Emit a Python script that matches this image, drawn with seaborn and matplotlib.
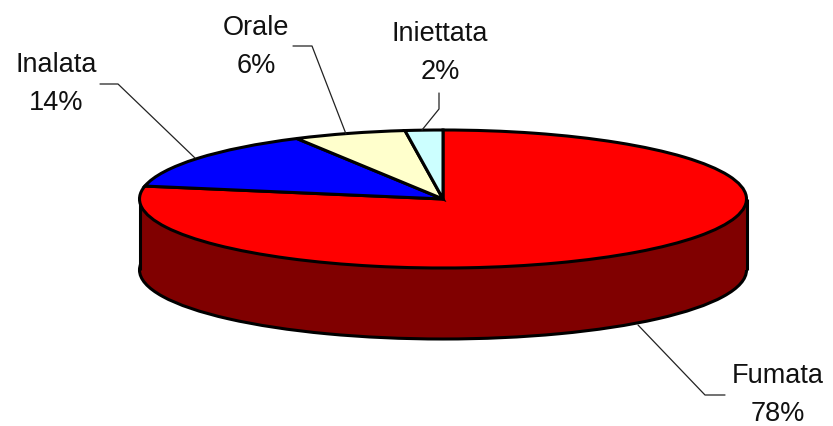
import matplotlib
matplotlib.use('Agg')
import matplotlib.pyplot as plt
import seaborn as sns

# Values and names, clockwise from the top
labels = ['Fumata', 'Inalata', 'Orale', 'Iniettata']
values = [78, 14, 6, 2]
colors = ['#ff0000', '#0000ff', '#ffffcc', '#ccffff']
side_color = '#800000'

sns.set_theme(style='white')
plt.rcParams['font.family'] = ['Liberation Sans', 'DejaVu Sans']

W, H = 833, 426
CX, CY, RX, RY, DEPTH = 443, 199, 303.5, 69, 71

fig = plt.figure(figsize=(W / 100, H / 100), dpi=100)
ax = fig.add_axes([0, 0, 1, 1])


def px(x, y):
    # picture pixels to the unit pie's data coordinates
    return (x - CX) / RX, (CY - y) / RY


depth = DEPTH / RY

# lower face of the disc, then the side band, then the top face
ax.pie([sum(values)], colors=[side_color], startangle=90, counterclock=False, center=(0, -depth),
       radius=1, wedgeprops=dict(edgecolor='black', linewidth=2.2))
ax.fill_between([-1, 1], [-depth, -depth], [0, 0], color=side_color, lw=0, zorder=2)
ax.vlines([-1, 1], -depth, 0, color='black', lw=2.2, zorder=3)
wedges, _ = ax.pie(values, colors=colors, startangle=90, counterclock=False, radius=1,
                   wedgeprops=dict(edgecolor='black', linewidth=2.2, zorder=4))

ax.set_aspect('auto')
ax.set_xlim((0 - CX) / RX, (W - CX) / RX)
ax.set_ylim((CY - H) / RY, CY / RY)

# label centre and leader polyline, in picture pixels
label_pos = [(778, 395), (56, 84), (256, 47), (440, 53)]
leaders = [
    [(725, 395), (705, 395), (638, 325)],
    [(100, 84), (118, 84), (195, 158)],
    [(293, 46), (312, 46), (346, 134)],
    [(439, 93), (439, 109), (422, 130)],
]

for name, val, lp, line in zip(labels, values, label_pos, leaders):
    ax.text(*px(*lp), f'{name}\n{val}%', ha='center', va='center', fontsize=19.5,
            linespacing=1.62, color='#111111', zorder=6)
    xs, ys = zip(*[px(*p) for p in line])
    ax.plot(xs, ys, color='#222222', lw=0.9, zorder=5)

fig.savefig('out.png', dpi=100, facecolor='white')
